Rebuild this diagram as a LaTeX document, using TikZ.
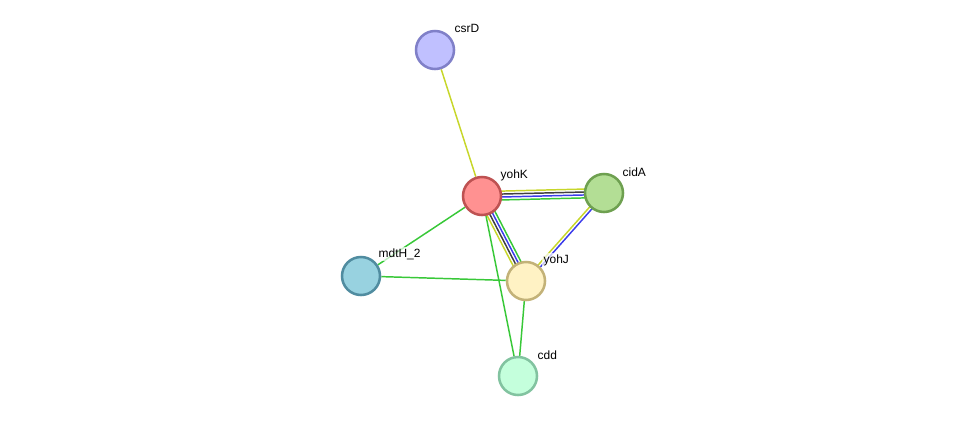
\documentclass[tikz,border=0pt]{standalone}
\usepackage{fontspec}
\setmainfont{Liberation Sans}
\usepackage{tikz}
\usetikzlibrary{calc,backgrounds}

\definecolor{edgeyg}{RGB}{199,214,42}
\definecolor{edgegreen}{RGB}{56,200,56}
\definecolor{edgeblue}{RGB}{60,60,235}
\definecolor{edgegrey}{RGB}{64,64,64}

\tikzset{
  prot/.style={circle,minimum size=0.95cm,inner sep=0pt,line width=1.8pt},
  plabel/.style={anchor=west,font=\fontsize{8.5}{10}\selectfont,inner sep=1pt,
    fill=white,fill opacity=0.7,text opacity=1},
  link/.style={line width=1.05pt}
}

\begin{document}
\begin{tikzpicture}[x=0.025cm,y=-0.025cm]
\useasboundingbox (0,0) rectangle (975,422);

% proteins
\node[prot,draw={rgb,255:red,128;green,128;blue,200},fill={rgb,255:red,192;green,192;blue,255}] (csrD) at (435,50) {};
\node[prot,draw={rgb,255:red,190;green,82;blue,82},fill={rgb,255:red,255;green,145;blue,145}] (yohK) at (482,196) {};
\node[prot,draw={rgb,255:red,110;green,160;blue,80},fill={rgb,255:red,179;green,222;blue,149}] (cidA) at (604,193) {};
\node[prot,draw={rgb,255:red,80;green,140;blue,160},fill={rgb,255:red,152;green,210;blue,224}] (mdtH) at (361,276) {};
\node[prot,draw={rgb,255:red,195;green,178;blue,120},fill={rgb,255:red,255;green,242;blue,196}] (yohJ) at (526,281) {};
\node[prot,draw={rgb,255:red,130;green,195;blue,160},fill={rgb,255:red,196;green,255;blue,220}] (cdd) at (518,376) {};

% labels
\node[plabel] (lcsrD) at ($(csrD)+(18,-22)$) {csrD};
\node[plabel] (lyohK) at ($(yohK)+(17,-21)$) {yohK};
\node[plabel] (lcidA) at ($(cidA)+(17,-21)$) {cidA};
\node[plabel] (lmdtH) at ($(mdtH)+(16,-22)$) {mdtH\_2};
\node[plabel] (lyohJ) at ($(yohJ)+(16,-21)$) {yohJ};
\node[plabel] (lcdd) at ($(cdd)+(18,-21)$) {cdd};

% edges
\begin{scope}[on background layer]
\draw[link,edgeyg] (csrD) -- (yohK);
\draw[link,edgegreen] (yohK) -- (mdtH);
\draw[link,edgegreen] (mdtH) -- (yohJ);
\draw[link,edgegreen] (yohK) -- (cdd);
\draw[link,edgegreen] (yohJ) -- (cdd);
\foreach \d/\c in {3.15/edgeyg,1.05/edgegrey,-1.05/edgeblue,-3.15/edgegreen}
  \draw[link,\c] ($(yohK)!\d pt!90:(cidA)$) -- ($(cidA)!\d pt!-90:(yohK)$);
\foreach \d/\c in {-3.15/edgeyg,-1.05/edgegrey,1.05/edgeblue,3.15/edgegreen}
  \draw[link,\c] ($(yohK)!\d pt!90:(yohJ)$) -- ($(yohJ)!\d pt!-90:(yohK)$);
\foreach \d/\c in {-1.05/edgeyg,1.05/edgeblue}
  \draw[link,\c] ($(cidA)!\d pt!90:(yohJ)$) -- ($(yohJ)!\d pt!-90:(cidA)$);
\end{scope}
\end{tikzpicture}
\end{document}
